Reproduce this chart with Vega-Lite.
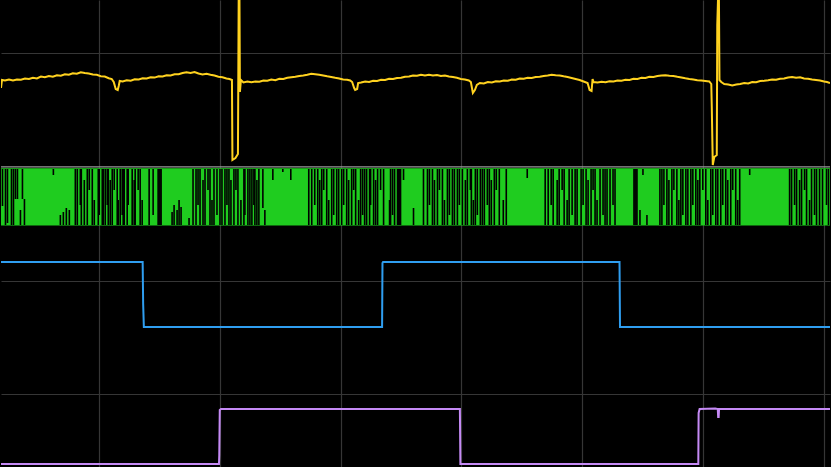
{
"$schema": "https://vega.github.io/schema/vega-lite/v6.json",
"width": 831, "height": 467,
"autosize": {"type": "fit", "contains": "padding"},
"padding": 0,
"background": "#000000",
"config": {"view": {"stroke": null}, "axis": {"labels": false, "ticks": false, "domain": false, "title": null, "grid": true, "gridColor": "#363636", "gridWidth": 1.2}},
"datasets": {
"band": [{"x": 0, "x2": 831, "y": 168.3, "y2": 225.5}],
"ref": [{"x": 0, "x2": 831, "y": 166.9}],
"gaps": [
{"x":1,"y":169,"y2":206},{"x":4,"y":169,"y2":225},{"x":6,"y":169,"y2":223},{"x":10,"y":169,"y2":225},{"x":12,"y":169,"y2":225},{"x":14,"y":169,"y2":199},{"x":16,"y":169,"y2":199},{"x":19,"y":210,"y2":225},{"x":21,"y":169,"y2":199},{"x":23,"y":199,"y2":225},{"x":52,"y":169,"y2":175},{"x":59,"y":215,"y2":225},{"x":62,"y":212,"y2":225},{"x":65,"y":208,"y2":225},{"x":68,"y":210,"y2":225},
{"x":74,"y":169,"y2":225},{"x":76,"y":169,"y2":225},{"x":79,"y":169,"y2":205},{"x":80,"y":169,"y2":225},{"x":83,"y":180,"y2":225},{"x":86,"y":169,"y2":225},{"x":88,"y":169,"y2":190},{"x":91,"y":169,"y2":225},{"x":93,"y":200,"y2":225},{"x":97,"y":169,"y2":225},{"x":98,"y":169,"y2":215},{"x":101,"y":169,"y2":225},{"x":102,"y":169,"y2":225},{"x":104,"y":169,"y2":225},{"x":106,"y":169,"y2":205},{"x":107,"y":169,"y2":225},{"x":109,"y":180,"y2":225},{"x":111,"y":169,"y2":225},{"x":113,"y":169,"y2":190},{"x":116,"y":169,"y2":225},{"x":117,"y":200,"y2":225},{"x":119,"y":169,"y2":225},{"x":121,"y":169,"y2":215},{"x":122,"y":169,"y2":225},{"x":123,"y":169,"y2":225},{"x":126,"y":169,"y2":225},{"x":127,"y":169,"y2":205},{"x":131,"y":169,"y2":225},{"x":133,"y":180,"y2":225},{"x":134,"y":169,"y2":225},{"x":137,"y":169,"y2":190},{"x":139,"y":169,"y2":225},{"x":141,"y":200,"y2":225},{"x":148,"y":169,"y2":225},{"x":152,"y":169,"y2":215},
{"x":157,"y":169,"y2":225},{"x":158,"y":169,"y2":225},{"x":159,"y":169,"y2":225},{"x":160,"y":169,"y2":225},
{"x":171,"y":212,"y2":225},{"x":173,"y":205,"y2":225},{"x":176,"y":210,"y2":225},{"x":178,"y":200,"y2":225},{"x":180,"y":207,"y2":225},{"x":188,"y":218,"y2":225},
{"x":192,"y":169,"y2":225},{"x":195,"y":169,"y2":225},{"x":197,"y":169,"y2":205},{"x":199,"y":169,"y2":225},{"x":202,"y":180,"y2":225},{"x":204,"y":169,"y2":225},{"x":207,"y":169,"y2":190},{"x":209,"y":169,"y2":225},{"x":211,"y":200,"y2":225},{"x":213,"y":169,"y2":225},{"x":216,"y":169,"y2":215},{"x":219,"y":169,"y2":225},{"x":221,"y":169,"y2":225},{"x":224,"y":169,"y2":225},{"x":226,"y":169,"y2":205},{"x":228,"y":169,"y2":225},{"x":230,"y":180,"y2":225},{"x":233,"y":169,"y2":225},{"x":235,"y":169,"y2":190},{"x":237,"y":169,"y2":225},{"x":240,"y":200,"y2":225},{"x":243,"y":169,"y2":225},{"x":244,"y":169,"y2":215},{"x":247,"y":169,"y2":225},{"x":249,"y":169,"y2":225},{"x":251,"y":169,"y2":225},{"x":253,"y":169,"y2":205},{"x":254,"y":169,"y2":225},{"x":256,"y":180,"y2":225},{"x":258,"y":169,"y2":225},
{"x":262,"y":169,"y2":208},{"x":264,"y":210,"y2":225},{"x":272,"y":169,"y2":180},{"x":282,"y":169,"y2":172},{"x":290,"y":169,"y2":180},
{"x":308,"y":169,"y2":225},{"x":311,"y":169,"y2":225},{"x":314,"y":169,"y2":205},{"x":317,"y":169,"y2":225},{"x":319,"y":180,"y2":225},{"x":321,"y":169,"y2":225},{"x":323,"y":169,"y2":190},{"x":326,"y":169,"y2":225},{"x":328,"y":200,"y2":225},{"x":331,"y":169,"y2":225},{"x":333,"y":169,"y2":215},{"x":336,"y":169,"y2":225},{"x":338,"y":169,"y2":225},{"x":341,"y":169,"y2":225},{"x":343,"y":169,"y2":205},{"x":346,"y":169,"y2":225},{"x":348,"y":180,"y2":225},{"x":351,"y":169,"y2":225},{"x":353,"y":169,"y2":190},{"x":355,"y":169,"y2":225},{"x":358,"y":200,"y2":225},{"x":360,"y":169,"y2":225},{"x":362,"y":169,"y2":215},{"x":364,"y":169,"y2":225},{"x":366,"y":169,"y2":225},{"x":369,"y":169,"y2":225},{"x":370,"y":169,"y2":205},{"x":373,"y":169,"y2":225},{"x":375,"y":180,"y2":225},{"x":377,"y":169,"y2":225},{"x":380,"y":169,"y2":190},{"x":383,"y":169,"y2":225},{"x":389,"y":200,"y2":225},{"x":390,"y":169,"y2":225},{"x":392,"y":169,"y2":215},{"x":394,"y":169,"y2":225},
{"x":397,"y":169,"y2":225},{"x":398,"y":169,"y2":225},{"x":399,"y":169,"y2":225},{"x":400,"y":169,"y2":225},
{"x":403,"y":169,"y2":180},{"x":413,"y":208,"y2":225},
{"x":423,"y":169,"y2":225},{"x":427,"y":169,"y2":225},{"x":429,"y":169,"y2":205},{"x":432,"y":169,"y2":225},{"x":434,"y":180,"y2":225},{"x":437,"y":169,"y2":225},{"x":439,"y":169,"y2":190},{"x":442,"y":169,"y2":225},{"x":444,"y":200,"y2":225},{"x":447,"y":169,"y2":225},{"x":449,"y":169,"y2":215},{"x":452,"y":169,"y2":225},{"x":454,"y":169,"y2":225},{"x":457,"y":169,"y2":225},{"x":459,"y":169,"y2":205},{"x":462,"y":169,"y2":225},{"x":465,"y":180,"y2":225},{"x":467,"y":169,"y2":225},{"x":470,"y":169,"y2":190},{"x":471,"y":169,"y2":225},{"x":473,"y":200,"y2":225},{"x":475,"y":169,"y2":225},{"x":477,"y":169,"y2":215},{"x":480,"y":169,"y2":225},{"x":482,"y":169,"y2":225},{"x":484,"y":169,"y2":225},{"x":487,"y":169,"y2":205},{"x":489,"y":169,"y2":225},{"x":491,"y":180,"y2":225},{"x":494,"y":169,"y2":225},{"x":496,"y":169,"y2":190},{"x":499,"y":169,"y2":225},{"x":503,"y":200,"y2":225},{"x":506,"y":169,"y2":225},
{"x":527,"y":169,"y2":178},
{"x":545,"y":169,"y2":225},{"x":548,"y":169,"y2":225},{"x":551,"y":169,"y2":205},{"x":553,"y":169,"y2":225},{"x":557,"y":180,"y2":225},{"x":559,"y":169,"y2":225},{"x":562,"y":169,"y2":190},{"x":564,"y":169,"y2":225},{"x":567,"y":200,"y2":225},{"x":569,"y":169,"y2":225},{"x":572,"y":169,"y2":215},{"x":575,"y":169,"y2":225},{"x":577,"y":169,"y2":225},{"x":581,"y":169,"y2":225},{"x":583,"y":169,"y2":205},{"x":586,"y":169,"y2":225},{"x":588,"y":180,"y2":225},{"x":591,"y":169,"y2":225},{"x":593,"y":169,"y2":190},{"x":595,"y":169,"y2":225},{"x":597,"y":200,"y2":225},{"x":600,"y":169,"y2":225},{"x":603,"y":169,"y2":215},{"x":605,"y":169,"y2":225},{"x":607,"y":169,"y2":225},{"x":610,"y":169,"y2":225},{"x":613,"y":169,"y2":205},{"x":615,"y":169,"y2":225},
{"x":634,"y":169,"y2":225},{"x":635,"y":169,"y2":225},{"x":636,"y":169,"y2":225},{"x":637,"y":169,"y2":225},
{"x":640,"y":210,"y2":225},{"x":643,"y":169,"y2":175},{"x":647,"y":215,"y2":225},
{"x":660,"y":169,"y2":225},{"x":662,"y":169,"y2":225},{"x":664,"y":169,"y2":205},{"x":667,"y":169,"y2":225},{"x":669,"y":180,"y2":225},{"x":672,"y":169,"y2":225},{"x":674,"y":169,"y2":190},{"x":677,"y":169,"y2":225},{"x":679,"y":200,"y2":225},{"x":681,"y":169,"y2":225},{"x":683,"y":169,"y2":215},{"x":686,"y":169,"y2":225},{"x":688,"y":169,"y2":225},{"x":691,"y":169,"y2":225},{"x":693,"y":169,"y2":205},{"x":696,"y":169,"y2":225},{"x":698,"y":180,"y2":225},{"x":700,"y":169,"y2":225},{"x":703,"y":169,"y2":190},{"x":706,"y":169,"y2":225},{"x":708,"y":200,"y2":225},{"x":711,"y":169,"y2":225},{"x":713,"y":169,"y2":215},{"x":716,"y":169,"y2":225},{"x":718,"y":169,"y2":225},{"x":721,"y":169,"y2":225},{"x":723,"y":169,"y2":205},{"x":726,"y":169,"y2":225},{"x":728,"y":180,"y2":225},{"x":731,"y":169,"y2":225},{"x":733,"y":169,"y2":190},{"x":736,"y":169,"y2":225},{"x":738,"y":200,"y2":225},{"x":740,"y":169,"y2":225},
{"x":750,"y":169,"y2":175},
{"x":790,"y":169,"y2":225},{"x":792,"y":169,"y2":225},{"x":795,"y":169,"y2":205},{"x":797,"y":169,"y2":225},{"x":800,"y":180,"y2":225},{"x":802,"y":169,"y2":225},{"x":805,"y":169,"y2":190},{"x":807,"y":169,"y2":225},{"x":810,"y":200,"y2":225},{"x":812,"y":169,"y2":225},{"x":815,"y":169,"y2":215},{"x":817,"y":169,"y2":225},{"x":820,"y":169,"y2":225},{"x":823,"y":169,"y2":225},{"x":827,"y":169,"y2":205},{"x":829,"y":169,"y2":225}
],
"ch1": [
{"x":0,"y":88},{"x":1,"y":80},{"x":4,"y":80.5},{"x":8,"y":79.5},{"x":12,"y":80.5},{"x":16,"y":79.5},{"x":20,"y":79.8},{"x":24,"y":78.5},{"x":28,"y":79},{"x":32,"y":77.8},{"x":36,"y":78.5},{"x":40,"y":76.5},{"x":44,"y":77.3},{"x":48,"y":76},{"x":52,"y":76.8},{"x":56,"y":75.2},{"x":60,"y":75.8},{"x":64,"y":74.2},{"x":68,"y":74.8},{"x":72,"y":73.2},{"x":76,"y":73.8},{"x":80,"y":72.2},{"x":84,"y":73},{"x":88,"y":73.5},{"x":92,"y":74.5},{"x":96,"y":74.8},{"x":100,"y":76.2},{"x":104,"y":76.5},{"x":108,"y":78.2},{"x":111,"y":79},{"x":113,"y":82},{"x":115,"y":89},{"x":117,"y":90},{"x":118,"y":86},{"x":119,"y":81},{"x":122,"y":81.5},{"x":126,"y":80.2},{"x":130,"y":80.8},{"x":134,"y":79.3},{"x":138,"y":79.5},{"x":142,"y":78.2},{"x":146,"y":78.5},{"x":150,"y":77.2},{"x":154,"y":77.6},{"x":158,"y":76.2},{"x":162,"y":76.5},{"x":166,"y":75.2},{"x":170,"y":75.5},{"x":174,"y":74.2},{"x":178,"y":74.3},{"x":182,"y":73},{"x":186,"y":72.3},{"x":190,"y":73},{"x":194,"y":72},{"x":198,"y":73.5},{"x":202,"y":74.5},{"x":206,"y":73.8},{"x":210,"y":74.8},{"x":214,"y":75.5},{"x":218,"y":76.8},{"x":222,"y":77.2},{"x":226,"y":78.5},{"x":229,"y":79},{"x":231.5,"y":80},{"x":232,"y":160},{"x":235,"y":158},{"x":237.5,"y":154},{"x":238.3,"y":-10},{"x":239,"y":-10},{"x":239.5,"y":92},{"x":240.5,"y":80},{"x":243,"y":82.5},{"x":247,"y":81.5},{"x":251,"y":82.3},{"x":255,"y":81.5},{"x":259,"y":81.8},{"x":263,"y":80.5},{"x":267,"y":80.8},{"x":271,"y":79.5},{"x":275,"y":80.2},{"x":279,"y":78.8},{"x":283,"y":79},{"x":287,"y":77.8},{"x":291,"y":77.2},{"x":295,"y":76.8},{"x":299,"y":76},{"x":303,"y":75.5},{"x":307,"y":74.8},{"x":311,"y":73.8},{"x":315,"y":74.3},{"x":319,"y":74.8},{"x":323,"y":75.5},{"x":327,"y":76.3},{"x":331,"y":77},{"x":335,"y":77.8},{"x":339,"y":78.5},{"x":343,"y":79.5},{"x":347,"y":79.8},{"x":350,"y":80.5},{"x":352,"y":82},{"x":354,"y":88},{"x":355,"y":90},{"x":357,"y":89},{"x":358,"y":83},{"x":361,"y":82.5},{"x":365,"y":81.5},{"x":369,"y":82},{"x":373,"y":80.8},{"x":377,"y":81},{"x":381,"y":79.8},{"x":385,"y":80},{"x":389,"y":78.8},{"x":393,"y":79},{"x":397,"y":78},{"x":401,"y":77.8},{"x":405,"y":76.8},{"x":409,"y":76.5},{"x":413,"y":75.5},{"x":417,"y":75.8},{"x":421,"y":74.8},{"x":425,"y":75.5},{"x":429,"y":74.8},{"x":433,"y":75.5},{"x":437,"y":75},{"x":441,"y":76},{"x":445,"y":75.5},{"x":449,"y":76.5},{"x":453,"y":77},{"x":457,"y":77.8},{"x":461,"y":79},{"x":465,"y":79.5},{"x":469,"y":80.5},{"x":471,"y":82},{"x":473,"y":93},{"x":475,"y":90},{"x":477,"y":85},{"x":480,"y":83},{"x":484,"y":83.5},{"x":488,"y":82},{"x":492,"y":82.5},{"x":496,"y":81.2},{"x":500,"y":81.5},{"x":504,"y":80.5},{"x":508,"y":80.8},{"x":512,"y":79.5},{"x":516,"y":79.8},{"x":520,"y":78.5},{"x":524,"y":78.8},{"x":528,"y":77.8},{"x":532,"y":78},{"x":536,"y":77},{"x":540,"y":76.8},{"x":544,"y":76},{"x":548,"y":75.5},{"x":552,"y":74.8},{"x":556,"y":75.2},{"x":560,"y":75.5},{"x":564,"y":76.3},{"x":568,"y":77},{"x":572,"y":78},{"x":576,"y":79},{"x":580,"y":80},{"x":584,"y":81.5},{"x":588,"y":83},{"x":590,"y":90},{"x":592,"y":91},{"x":593,"y":79},{"x":594,"y":82},{"x":598,"y":82.5},{"x":602,"y":81.8},{"x":606,"y":82.2},{"x":610,"y":81.3},{"x":614,"y":81.5},{"x":618,"y":80.5},{"x":622,"y":80.8},{"x":626,"y":79.8},{"x":630,"y":80},{"x":634,"y":78.8},{"x":638,"y":79},{"x":642,"y":77.8},{"x":646,"y":78},{"x":650,"y":76.8},{"x":654,"y":77},{"x":658,"y":76},{"x":662,"y":75.5},{"x":666,"y":75.2},{"x":670,"y":75.8},{"x":674,"y":76},{"x":678,"y":76.8},{"x":682,"y":77.5},{"x":686,"y":78.3},{"x":690,"y":79},{"x":694,"y":79.5},{"x":698,"y":80.2},{"x":702,"y":80.5},{"x":706,"y":81},{"x":710,"y":81.5},{"x":712,"y":84},{"x":712.5,"y":107},{"x":713.5,"y":165},{"x":715,"y":157},{"x":717.5,"y":155},{"x":718,"y":25},{"x":719,"y":-10},{"x":719.6,"y":-10},{"x":720.2,"y":80},{"x":722,"y":82},{"x":725,"y":84},{"x":729,"y":84.5},{"x":733,"y":85.5},{"x":737,"y":84.5},{"x":741,"y":84},{"x":745,"y":83},{"x":749,"y":83.5},{"x":753,"y":82},{"x":757,"y":82.3},{"x":761,"y":81},{"x":765,"y":80.8},{"x":769,"y":80.2},{"x":773,"y":79.5},{"x":777,"y":79.8},{"x":781,"y":78.8},{"x":785,"y":78.5},{"x":789,"y":77.5},{"x":793,"y":77},{"x":797,"y":77.8},{"x":801,"y":77.3},{"x":805,"y":78.5},{"x":809,"y":78.8},{"x":813,"y":79.5},{"x":817,"y":80},{"x":821,"y":80.5},{"x":825,"y":81.5},{"x":828,"y":82},{"x":831,"y":83}
],
"ch3": [
{"x":0,"y":262},{"x":142,"y":262},{"x":142.5,"y":304},{"x":143.2,"y":327},{"x":382,"y":327},{"x":382.4,"y":263},{"x":383,"y":262},{"x":620,"y":262},{"x":620.5,"y":327},{"x":831,"y":327}
],
"ch4": [
{"x":0,"y":464},{"x":218.5,"y":464},{"x":218.8,"y":455},{"x":219.3,"y":410},{"x":220.5,"y":409},{"x":460,"y":409},{"x":460.5,"y":464},{"x":699,"y":464},{"x":699.3,"y":413},{"x":700.3,"y":409},{"x":716,"y":408.5},{"x":718.5,"y":409},{"x":718.9,"y":417},{"x":719.4,"y":417},{"x":719.8,"y":409},{"x":831,"y":409}
]
},
"encoding": {
"x": {"field": "x", "type": "quantitative", "scale": {"domain": [0, 831], "nice": false, "zero": false}, "axis": {"values": [98, 219.2, 340.4, 461.6, 582.8, 704, 825.2]}},
"y": {"field": "y", "type": "quantitative", "scale": {"domain": [0, 467], "reverse": true, "nice": false, "zero": false}, "axis": {"values": [53.3, 280.5, 394.1]}}
},
"layer": [
{"data": {"name": "band"}, "mark": {"type": "rect", "color": "#1fcc1f"}, "encoding": {"x2": {"field": "x2"}, "y2": {"field": "y2"}}},
{"data": {"name": "gaps"}, "mark": {"type": "rule", "color": "#000000", "strokeWidth": 1.6, "xOffset": 0.5}, "encoding": {"y2": {"field": "y2"}}},
{"data": {"name": "ref"}, "mark": {"type": "rule", "color": "#9a9a9a", "strokeWidth": 1.3}, "encoding": {"x2": {"field": "x2"}}},
{"data": {"name": "ch1"}, "mark": {"type": "line", "color": "#ffd21f", "strokeWidth": 2, "clip": true}},
{"data": {"name": "ch3"}, "mark": {"type": "line", "color": "#2f9ef0", "strokeWidth": 2, "clip": true}},
{"data": {"name": "ch4"}, "mark": {"type": "line", "color": "#c58af5", "strokeWidth": 2, "clip": true}}
]
}
